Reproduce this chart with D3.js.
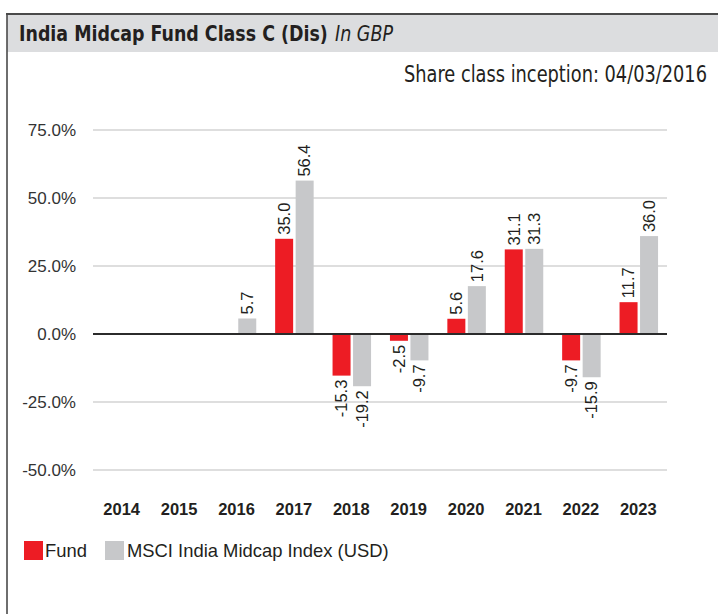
<!DOCTYPE html>
<html>
<head>
<meta charset="utf-8">
<script src="https://cdn.jsdelivr.net/npm/d3@7"></script>
<style>
  html, body { margin: 0; padding: 0; background: #fff; }
  svg { display: block; }
</style>
</head>
<body>
<div id="chart"></div>
<script>
const years = ["2014", "2015", "2016", "2017", "2018", "2019", "2020", "2021", "2022", "2023"];
const fundValues = [null, null, null, 35.0, -15.3, -2.5, 5.6, 31.1, -9.7, 11.7];
const indexValues = [null, null, 5.7, 56.4, -19.2, -9.7, 17.6, 31.3, -15.9, 36.0];
const yTicks = [-50, -25, 0, 25, 50, 75];
const seriesNames = ["Fund", "MSCI India Midcap Index (USD)"];
const seriesColors = ["#ed1c24", "#c7c8ca"];
const titleMain = "India Midcap Fund Class C (Dis)";
const titleSub = "In GBP";
const inceptionText = "Share class inception: 04/03/2016";

const W = 718, H = 614;
const svg = d3.select("#chart").append("svg").attr("width", W).attr("height", H);
svg.append("rect").attr("width", W).attr("height", H).attr("fill", "#fff");

// Header band and frame
svg.append("rect").attr("x", 7).attr("y", 14).attr("width", W - 7).attr("height", 38).attr("fill", "#dcdddf");
svg.append("line").attr("x1", 6).attr("x2", W).attr("y1", 14).attr("y2", 14).attr("stroke", "#4a4a4a").attr("stroke-width", 1.8);
svg.append("line").attr("x1", 7).attr("x2", 7).attr("y1", 13).attr("y2", H).attr("stroke", "#4a4a4a").attr("stroke-width", 1.6);

const condFont = "'Liberation Sans Narrow', 'DejaVu Sans Condensed', 'Liberation Sans', sans-serif";
// Fit a text horizontally to a target width by scaling along x
function fitText(sel, x0, y0, targetW) {
  const len = sel.node().getComputedTextLength();
  const k = len > 0 ? targetW / len : 1;
  sel.attr("x", null).attr("y", null)
    .attr("transform", `translate(${x0},${y0}) scale(${k},1)`);
  return sel;
}
fitText(svg.append("text")
  .attr("font-family", condFont).attr("font-weight", "bold").attr("font-size", 22)
  .attr("fill", "#231f20").text(titleMain), 19, 41, 309);
fitText(svg.append("text")
  .attr("font-family", condFont).attr("font-style", "italic").attr("font-size", 22)
  .attr("fill", "#231f20").text(titleSub), 335, 41, 58);
fitText(svg.append("text")
  .attr("font-family", condFont).attr("font-size", 23)
  .attr("fill", "#231f20").text(inceptionText), 404, 82, 303);

// Scales
const x = d3.scaleBand().domain(years).range([93, 667]).padding(0);
const y = d3.scaleLinear().domain([-50, 75]).range([470, 130]);
const barW = 18, gap = 2.5;

const font = "'Liberation Sans', Arial, sans-serif";

// Gridlines
svg.append("g").selectAll("line").data(yTicks.filter(d => d !== 0)).join("line")
  .attr("x1", 93).attr("x2", 667)
  .attr("y1", d => y(d)).attr("y2", d => y(d))
  .attr("stroke", "#d3d3d3").attr("stroke-width", 1.5);

// Y axis labels
const yAxis = d3.axisLeft(y).tickValues(yTicks).tickSize(0).tickPadding(0)
  .tickFormat(d => d.toFixed(1) + "%");
const yg = svg.append("g").attr("transform", "translate(76,0)").call(yAxis);
yg.select(".domain").remove();
yg.selectAll("text").attr("font-family", font).attr("font-size", 17).attr("fill", "#333").attr("dy", "0.35em");

// X axis labels
const xAxis = d3.axisBottom(x).tickSize(0).tickPadding(0);
const xg = svg.append("g").attr("transform", "translate(0,500)").call(xAxis);
xg.select(".domain").remove();
xg.selectAll("text").attr("font-family", font).attr("font-size", 16.5).attr("font-weight", "bold")
  .attr("fill", "#231f20").attr("dy", "0.9em");

// Bars
const series = [fundValues, indexValues];
series.forEach((vals, si) => {
  const data = years.map((yr, i) => ({ yr, v: vals[i] })).filter(d => d.v !== null);
  const bx = d => x(d.yr) + x.bandwidth() / 2 + 0.5 + (si === 0 ? -(barW + gap / 2) : gap / 2);
  svg.append("g").selectAll("rect").data(data).join("rect")
    .attr("x", bx)
    .attr("width", barW)
    .attr("y", d => Math.min(y(d.v), y(0)))
    .attr("height", d => Math.abs(y(d.v) - y(0)))
    .attr("fill", seriesColors[si]);
  svg.append("g").selectAll("text").data(data).join("text")
    .attr("transform", d => {
      const cx = bx(d) + barW / 2;
      const ty = d.v >= 0 ? y(d.v) - 4 : y(d.v) + 4;
      return `translate(${cx},${ty}) rotate(-90)`;
    })
    .attr("text-anchor", d => d.v >= 0 ? "start" : "end")
    .attr("dy", "0.35em")
    .attr("font-family", font).attr("font-size", 16.5).attr("fill", "#231f20")
    .text(d => d.v.toFixed(1));
});

// Zero line
svg.append("line").attr("x1", 93).attr("x2", 667).attr("y1", y(0)).attr("y2", y(0))
  .attr("stroke", "#2b2b2b").attr("stroke-width", 2);

// Legend
const legendItems = [{ x: 24, tx: 45 }, { x: 105, tx: 127 }];
legendItems.forEach((it, i) => {
  svg.append("rect").attr("x", it.x).attr("y", 541).attr("width", 19).attr("height", 19).attr("fill", seriesColors[i]);
  svg.append("text").attr("x", it.tx).attr("y", 557)
    .attr("font-family", font).attr("font-size", 18.4).attr("fill", "#231f20")
    .text(seriesNames[i]);
});
</script>
</body>
</html>
